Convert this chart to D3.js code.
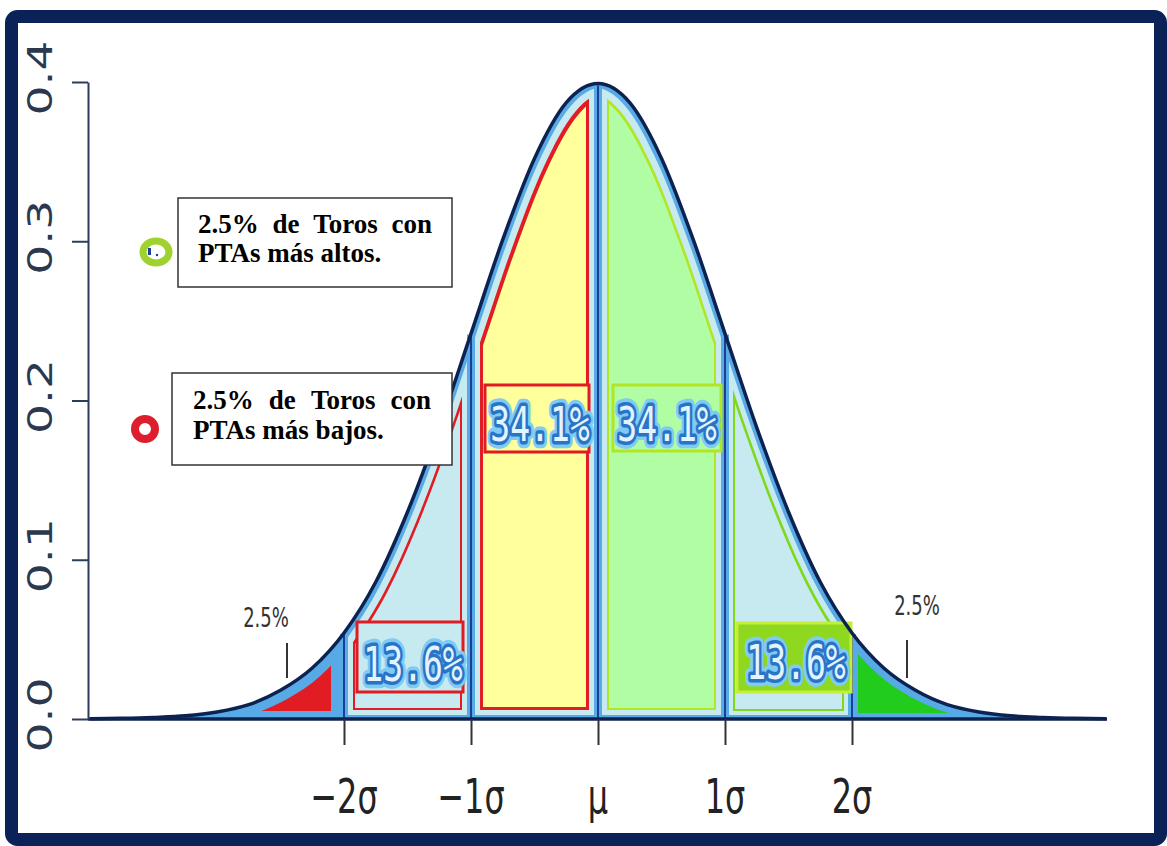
<!DOCTYPE html>
<html><head><meta charset="utf-8">
<script src="https://cdn.jsdelivr.net/npm/d3@7"></script>
<style>body{margin:0;background:#fff;}svg{display:block;}</style>
</head><body>
<svg id="chart" width="1167" height="846"></svg>
<script>
// ---------------- data ----------------
const zValues = [-4,-3.75,-3.5,-3.25,-3,-2.75,-2.5,-2.25,-2,-1.75,-1.5,-1.25,-1,-0.75,-0.5,-0.25,0,
                 0.25,0.5,0.75,1,1.25,1.5,1.75,2,2.25,2.5,2.75,3,3.25,3.5,3.75,4];
const densityValues = [0.0001,0.0004,0.001,0.002,0.0044,0.009,0.018,0.032,0.054,0.086,0.130,0.183,0.242,0.301,0.352,0.387,0.399,
                       0.387,0.352,0.301,0.242,0.183,0.130,0.086,0.054,0.032,0.018,0.009,0.0044,0.002,0.001,0.0004,0.0001];
const yTickValues = [0, 0.1, 0.2, 0.3, 0.4];
const yTickLabels = ["0.0", "0.1", "0.2", "0.3", "0.4"];
const sigmaTicks = [-2, -1, 0, 1, 2];
const sigmaLabels = ["−2σ", "−1σ", "μ", "1σ", "2σ"];
const bandStarts = [-2.85, -2, -1, 0, 1, 2];
const bandEnds = [-2.04, -1, 0, 1, 2, 3.2];
const shareLabels = ["13.6%", "34.1%", "34.1%", "13.6%"];
const tailLabels = ["2.5%", "2.5%"];
const noteLines = [["2.5% de Toros con", "PTAs más altos."], ["2.5% de Toros con", "PTAs más bajos."]];

// ---------------- styles / layout ----------------
const RED = "#e11b22", YEL = "#ffff9c", LGREEN = "#b0fda4", YG = "#b2e524", GREEN = "#22cc1a",
      CYAN = "#c7eaf1", BAND = "#58aae6", NAVY = "#0c2352";
const bandLayers = [
  [{e: 8, c: RED}],
  [{e: 4, c: CYAN}, {e: 9, c: RED}, {e: 11, c: CYAN}],
  [{e: 4, c: CYAN}, {e: 9, c: RED}, {e: 12, c: YEL}],
  [{e: 4, c: CYAN}, {e: 9, c: YG}, {e: 11, c: LGREEN}],
  [{e: 4, c: CYAN}, {e: 8, c: "#7fd81c"}, {e: 10, c: CYAN}],
  [{e: 6, c: GREEN}]
];
const shareLayout = [
  {cx: 413, base: 681, box: [357, 622, 106, 70], fill: CYAN, stroke: RED},
  {cx: 540, base: 441, box: [485, 385, 104, 67], fill: YEL, stroke: RED},
  {cx: 667, base: 441, box: [613, 385, 108, 66], fill: LGREEN, stroke: YG},
  {cx: 796, base: 679, box: [737, 623, 114, 69], fill: "#8fd820", stroke: "#c4ee3a"}
];
const tailLayout = [{x: 266, y: 627, mx: 287, m0: 643, m1: 678}, {x: 917, y: 615, mx: 907, m0: 640, m1: 678}];
const noteLayout = [
  {box: [178, 198, 274, 89], left: 198, right: 432, bases: [233, 262], ring: {type: "g", cx: 156, cy: 252}},
  {box: [172, 373, 280, 92], left: 193, right: 431, bases: [409, 439], ring: {type: "r", cx: 145, cy: 429}}
];

const svg = d3.select("#chart");
const x = d3.scaleLinear().domain([-4, 4]).range([90, 1106]);
const y = d3.scaleLinear().domain([0, 0.4]).range([719, 82]);
const pts = zValues.map((z, i) => [z, densityValues[i]]);

const area = d3.area().x(d => x(d[0])).y0(y(0)).y1(d => y(d[1])).curve(d3.curveMonotoneX);
const line = d3.line().x(d => x(d[0])).y(d => y(d[1])).curve(d3.curveMonotoneX);

const defs = svg.append("defs");
const radii = Array.from(new Set(bandLayers.flat().map(l => l.e)));
radii.forEach(r => {
  defs.append("filter").attr("id", "erode" + r)
    .attr("x", "-5%").attr("y", "-5%").attr("width", "110%").attr("height", "110%")
    .append("feMorphology").attr("operator", "erode").attr("radius", r);
});
bandStarts.forEach((a, i) => {
  defs.append("clipPath").attr("id", "band" + i).append("rect")
    .attr("x", x(a)).attr("y", 0).attr("width", x(bandEnds[i]) - x(a)).attr("height", y(0));
});

// full area (blue band colour)
svg.append("path").datum(pts).attr("d", area).attr("fill", BAND);

// bands
bandStarts.forEach((a, i) => {
  bandLayers[i].forEach(l => {
    svg.append("g").attr("filter", `url(#erode${l.e})`)
      .append("g").attr("clip-path", `url(#band${i})`)
      .append("path").datum(pts).attr("d", area).attr("fill", l.c);
  });
});

// dividers at sigma positions
sigmaTicks.forEach(v => {
  const d = densityValues[zValues.indexOf(v)];
  svg.append("line").attr("x1", x(v)).attr("x2", x(v)).attr("y1", y(0)).attr("y2", y(d) + 1)
    .attr("stroke", BAND).attr("stroke-width", 8);
  svg.append("line").attr("x1", x(v)).attr("x2", x(v)).attr("y1", y(0)).attr("y2", y(d) + 2)
    .attr("stroke", "#1b3f96").attr("stroke-width", 2);
});

// share labels
shareLabels.forEach((t, i) => {
  const L = shareLayout[i];
  svg.append("rect").attr("x", L.box[0]).attr("y", L.box[1]).attr("width", L.box[2]).attr("height", L.box[3])
    .attr("fill", L.fill).attr("stroke", L.stroke).attr("stroke-width", 3);
  const g = svg.append("g").attr("transform", `translate(${L.cx},${L.base}) scale(1,1.45)`);
  const layers = [{s: "#80cbf3", w: 10}, {s: "#2a74c8", w: 5}, {s: "none", w: 0}];
  layers.forEach(ly => {
    g.append("text").text(t).attr("text-anchor", "middle")
      .attr("font-family", "DejaVu Sans Mono").attr("font-size", 33)
      .attr("fill", "#e2f4ff").attr("stroke", ly.s).attr("stroke-width", ly.w)
      .attr("stroke-linejoin", "round");
  });
});

// curve line
svg.append("path").datum(pts).attr("d", line).attr("fill", "none").attr("stroke", NAVY).attr("stroke-width", 3.5);

// baseline
svg.append("line").attr("x1", x(-4) - 2).attr("x2", x(4) + 1).attr("y1", y(0)).attr("y2", y(0))
  .attr("stroke", NAVY).attr("stroke-width", 3.5);

// y axis
const yAxis = svg.append("g").attr("transform", "translate(88,0)")
  .call(d3.axisLeft(y).tickValues(yTickValues).tickSize(16).tickSizeOuter(0).tickFormat(""));
yAxis.select(".domain").attr("stroke", "#2d3c5c").attr("stroke-width", 2);
yAxis.selectAll(".tick line").attr("stroke", "#2d3c5c").attr("stroke-width", 2);
yTickValues.forEach((v, i) => {
  svg.append("text").text(yTickLabels[i])
    .attr("transform", `translate(52,${y(v) - 4}) scale(1,1.43) rotate(-90)`)
    .attr("text-anchor", "middle").attr("font-family", "DejaVu Sans").attr("font-size", 33)
    .attr("fill", "#2c3750");
});

// x axis ticks & labels
const xAxis = svg.append("g").attr("transform", `translate(0,${y(0)})`)
  .call(d3.axisBottom(x).tickValues(sigmaTicks).tickSize(26).tickSizeOuter(0).tickFormat(""));
xAxis.select(".domain").remove();
xAxis.selectAll(".tick line").attr("stroke", "#333").attr("stroke-width", 2);
sigmaTicks.forEach((v, i) => {
  svg.append("text").text(sigmaLabels[i])
    .attr("transform", `translate(${x(v)},813) scale(1,1.5)`)
    .attr("text-anchor", "middle").attr("font-family", "DejaVu Sans").attr("font-size", 32)
    .attr("fill", "#222");
});

// tail labels
tailLabels.forEach((t, i) => {
  const L = tailLayout[i];
  svg.append("text").text(t).attr("transform", `translate(${L.x},${L.y}) scale(1,1.45)`)
    .attr("text-anchor", "middle").attr("font-family", "DejaVu Sans").attr("font-size", 18)
    .attr("fill", "#333");
  svg.append("line").attr("x1", L.mx).attr("x2", L.mx).attr("y1", L.m0).attr("y2", L.m1)
    .attr("stroke", "#333").attr("stroke-width", 2);
});

// note boxes
noteLines.forEach((lines, i) => {
  const L = noteLayout[i];
  svg.append("rect").attr("x", L.box[0]).attr("y", L.box[1]).attr("width", L.box[2]).attr("height", L.box[3])
    .attr("fill", "#fff").attr("stroke", "#333").attr("stroke-width", 1.5);
  lines.forEach((ln, j) => {
    const words = ln.split(" ");
    const texts = words.map(w => svg.append("text").text(w).attr("y", L.bases[j])
      .attr("font-family", "Liberation Serif").attr("font-weight", "bold").attr("font-size", 27).attr("fill", "#000"));
    const widths = texts.map(t => t.node().getComputedTextLength());
    const justify = j < lines.length - 1;
    const gap = justify ? (L.right - L.left - d3.sum(widths)) / (words.length - 1) : 6.8;
    let cx = L.left;
    texts.forEach((t, k) => { t.attr("x", cx); cx += widths[k] + gap; });
  });
  const R = L.ring;
  if (R.type === "g") {
    svg.append("ellipse").attr("cx", R.cx).attr("cy", R.cy).attr("rx", 13).attr("ry", 11)
      .attr("fill", "#fff").attr("stroke", "#9fd22e").attr("stroke-width", 7);
    svg.append("rect").attr("x", R.cx - 8).attr("y", R.cy - 4).attr("width", 3).attr("height", 7).attr("fill", "#1b3f96");
    svg.append("circle").attr("cx", R.cx + 1).attr("cy", R.cy + 3).attr("r", 1.2).attr("fill", "#1b3f96");
  } else {
    svg.append("circle").attr("cx", R.cx).attr("cy", R.cy).attr("r", 10)
      .attr("fill", "#fff").attr("stroke", "#dd1f2d").attr("stroke-width", 8);
  }
});

// frame
svg.append("rect").attr("x", 11.5).attr("y", 16.5).attr("width", 1149).attr("height", 823).attr("rx", 6)
  .attr("fill", "none").attr("stroke", "#0a2257").attr("stroke-width", 13);
</script>
</body></html>
